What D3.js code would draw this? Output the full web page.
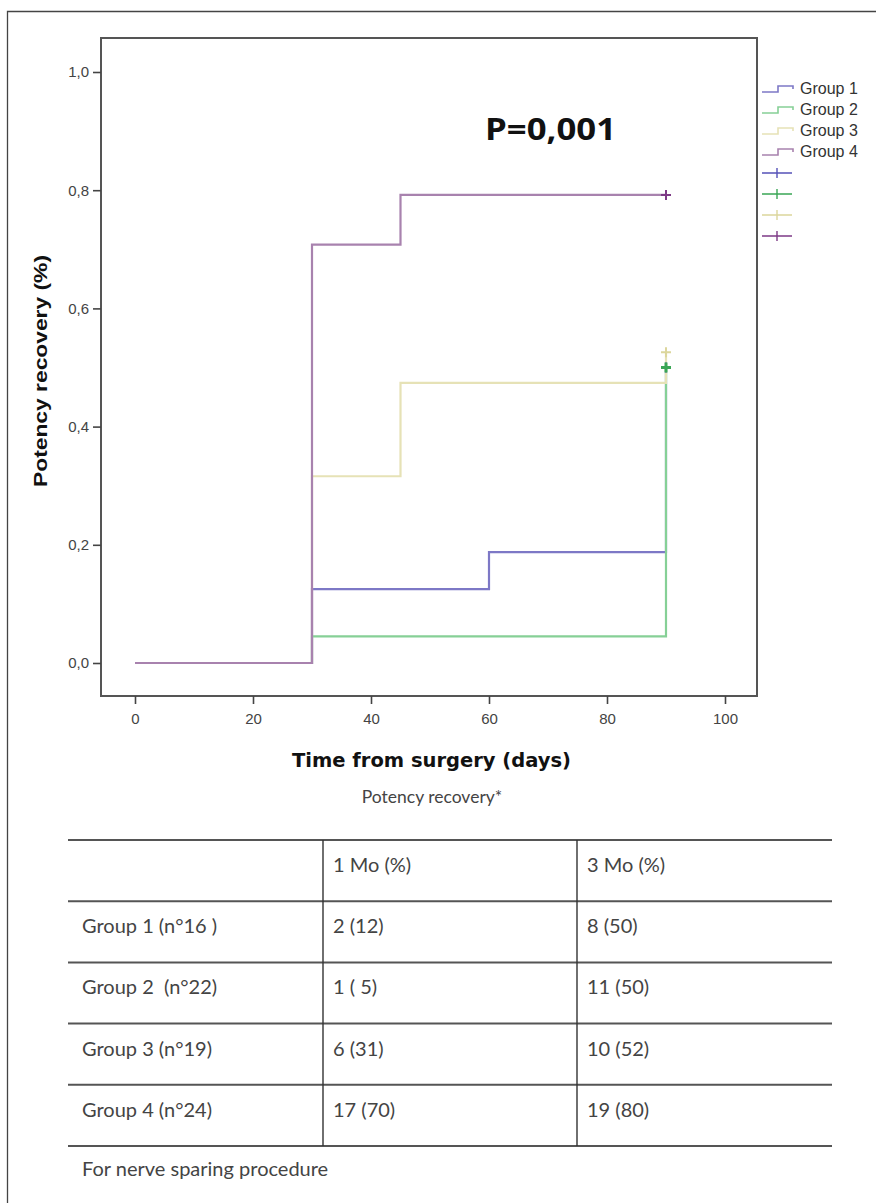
<!DOCTYPE html>
<html><head><meta charset="utf-8">
<script src="https://cdn.jsdelivr.net/npm/d3@7"></script>
<style>body{margin:0;background:#fff}svg{display:block}</style>
</head><body>
<svg id="c" width="876" height="1203"></svg>
<script>
// ---- data ----
const groups = ["Group 1", "Group 2", "Group 3", "Group 4"];
const g1Times = [0, 30, 60, 90];
const g1Values = [0, 0.125, 0.1875, 0.5];
const g2Times = [0, 30, 90];
const g2Values = [0, 0.045, 0.5];
const g3Times = [0, 30, 45, 90];
const g3Values = [0, 0.316, 0.474, 0.526];
const g4Times = [0, 30, 45, 90];
const g4Values = [0, 0.708, 0.792, 0.792];
const xTicks = [0, 20, 40, 60, 80, 100];
const yTicks = [0, 0.2, 0.4, 0.6, 0.8, 1.0];
const pText = "P=0,001";
const tableTitle = "Potency recovery*";
const tableHeaders = ["", "1 Mo (%)", "3 Mo (%)"];
const rowLabels = ["Group 1 (n°16 )", "Group 2  (n°22)", "Group 3 (n°19)", "Group 4 (n°24)"];
const oneMonth = ["2 (12)", "1 ( 5)", "6 (31)", "17 (70)"];
const threeMonth = ["8 (50)", "11 (50)", "10 (52)", "19 (80)"];
const footnote = "For nerve sparing procedure";

const lineColors = ["#7d78c6", "#86d096", "#e6e2b6", "#a882ae"];
const censorColors = ["#5552b8", "#3aa655", "#dcd69c", "#7e3a86"];

const svg = d3.select("#c");
// outer border (top & left)
svg.append("path").attr("d", "M7.5,1203V11.5H876").attr("fill", "none").attr("stroke", "#444").attr("stroke-width", 1.3);

const x = d3.scaleLinear().domain([0, 100]).range([135, 725]);
const y = d3.scaleLinear().domain([0, 1]).range([663, 72]);
const frame = {l: 101, t: 38, r: 757, b: 696};

svg.append("rect").attr("x", frame.l).attr("y", frame.t).attr("width", frame.r - frame.l).attr("height", frame.b - frame.t)
  .attr("fill", "none").attr("stroke", "#555").attr("stroke-width", 2);

const xa = svg.append("g").attr("transform", `translate(0,${frame.b})`)
  .call(d3.axisBottom(x).tickValues(xTicks).tickSize(8).tickPadding(9).tickFormat(d3.format("d")));
const ya = svg.append("g").attr("transform", `translate(${frame.l},0)`)
  .call(d3.axisLeft(y).tickValues(yTicks).tickSize(8).tickPadding(4).tickFormat(d => d.toFixed(1).replace(".", ",")));
[xa, ya].forEach(a => {
  a.select(".domain").remove();
  a.selectAll(".tick line").attr("stroke", "#444").attr("stroke-width", 1.6);
  a.selectAll(".tick text").attr("fill", "#444").style("font-family", "Liberation Sans, Arial, sans-serif").style("font-size", "15px");
});

// series
const series = [
  {t: g1Times, v: g1Values}, {t: g2Times, v: g2Values},
  {t: g3Times, v: g3Values}, {t: g4Times, v: g4Values}
];
const line = d3.line().x(d => x(d[0])).y(d => y(d[1])).curve(d3.curveStepAfter);
series.forEach((s, i) => {
  const pts = s.t.map((t, j) => [t, s.v[j]]);
  svg.append("path").attr("d", line(pts)).attr("fill", "none").attr("stroke", lineColors[i]).attr("stroke-width", 2.2);
});
// censor marks
series.forEach((s, i) => {
  const n = s.t.length - 1;
  const cx = x(s.t[n]), cy = y(s.v[n]);
  svg.append("path").attr("d", `M${cx - 5},${cy}H${cx + 5}M${cx},${cy - 5}V${cy + 5}`)
    .attr("stroke", censorColors[i]).attr("stroke-width", i === 1 ? 3 : 2);
});

// P value
svg.append("text").attr("x", 485).attr("y", 140).text(pText)
  .attr("textLength", 131).attr("lengthAdjust", "spacingAndGlyphs")
  .style("font-family", "Open Sans, sans-serif").style("font-weight", "bold").style("font-size", "31px").attr("fill", "#111");

// axis titles
svg.append("text").attr("x", 292).attr("y", 767).text("Time from surgery (days)")
  .attr("textLength", 279).attr("lengthAdjust", "spacingAndGlyphs")
  .style("font-family", "DejaVu Sans, sans-serif").style("font-weight", "bold").style("font-size", "19px").attr("fill", "#111");
svg.append("text").attr("transform", "translate(47,487) rotate(-90)").text("Potency recovery (%)")
  .attr("textLength", 232).attr("lengthAdjust", "spacingAndGlyphs")
  .style("font-family", "Liberation Sans, Arial, sans-serif").style("font-weight", "bold").style("font-size", "18px").attr("fill", "#111");

// legend
const legY = d3.scaleLinear().domain([0, 7]).range([89, 236]);
groups.forEach((g, i) => {
  const yy = legY(i);
  svg.append("path").attr("d", `M762,${yy + 3}H778V${yy - 3}H793V${yy}`).attr("fill", "none")
    .attr("stroke", lineColors[i]).attr("stroke-width", 1.6);
  svg.append("text").attr("x", 800).attr("y", yy + 5).text(g)
    .style("font-family", "Liberation Sans, Arial, sans-serif").style("font-size", "16px").attr("fill", "#333");
});
groups.forEach((g, i) => {
  const yy = legY(i + 4);
  svg.append("path").attr("d", `M762,${yy}H792M777,${yy - 5}V${yy + 5}`)
    .attr("stroke", censorColors[i]).attr("stroke-width", 1.4);
});

// table
const tfont = "Lato, Open Sans, sans-serif";
svg.append("text").attr("x", 432).attr("y", 803).attr("text-anchor", "middle").text(tableTitle)
  .style("font-family", tfont).style("font-size", "17.5px").attr("fill", "#444");
const rowY = d3.scaleLinear().domain([0, 5]).range([840, 1146]);
d3.range(6).forEach(i => {
  svg.append("line").attr("x1", 68).attr("x2", 832).attr("y1", rowY(i)).attr("y2", rowY(i))
    .attr("stroke", "#555").attr("stroke-width", 2);
});
[323, 577].forEach(cx => {
  svg.append("line").attr("x1", cx).attr("x2", cx).attr("y1", rowY(0)).attr("y2", rowY(5))
    .attr("stroke", "#333").attr("stroke-width", 1.4);
});
const colX = [82, 333, 587];
const rows = [tableHeaders].concat(rowLabels.map((r, i) => [r, oneMonth[i], threeMonth[i]]));
rows.forEach((r, i) => {
  r.forEach((c, j) => {
    svg.append("text").attr("x", colX[j]).attr("y", rowY(i) + 32).text(c)
      .style("white-space", "pre").style("font-family", tfont).style("font-size", "20px").attr("fill", "#444");
  });
});
svg.append("text").attr("x", 82).attr("y", 1176).text(footnote)
  .style("font-family", tfont).style("font-size", "20px").attr("fill", "#444");
</script>
</body></html>
